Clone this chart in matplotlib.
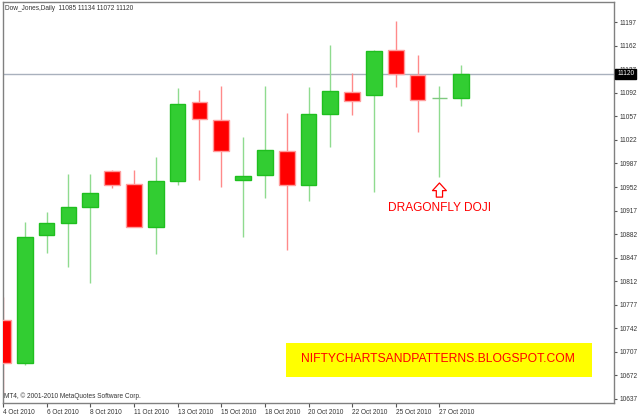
import matplotlib
matplotlib.use("Agg")
import matplotlib.pyplot as plt
from matplotlib.patches import Rectangle

# daily bars (MT4 export with a few sunday bars)
dates = ["4 Oct 2010", "5 Oct 2010", "6 Oct 2010", "7 Oct 2010", "8 Oct 2010",
         "10 Oct 2010", "11 Oct 2010", "12 Oct 2010", "13 Oct 2010", "14 Oct 2010",
         "15 Oct 2010", "17 Oct 2010", "18 Oct 2010", "19 Oct 2010", "20 Oct 2010",
         "21 Oct 2010", "22 Oct 2010", "24 Oct 2010", "25 Oct 2010", "26 Oct 2010",
         "27 Oct 2010", "28 Oct 2010"]
opens = [10754, 10690, 10880, 10898, 10923, 10976, 10957, 10892, 10961, 11078, 11052,
         10963, 10970, 11005, 10955, 11060, 11093, 11089, 11155, 11119, 11084, 11085]
highs = [10789, 10900, 10915, 10971, 10972, 10978, 10977, 10997, 11099, 11096, 11102,
         11027, 11102, 11062, 11100, 11163, 11122, 11156, 11199, 11148, 11102, 11134]
lows = [10646, 10688, 10854, 10833, 10810, 10950, 10892, 10852, 10955, 10963, 10952,
        10878, 10935, 10859, 10931, 11012, 11059, 10944, 11100, 11034, 10967, 11072]
closes = [10690, 10878, 10898, 10922, 10943, 10955, 10893, 10961, 11075, 11053, 11005,
          10969, 11007, 10955, 11061, 11094, 11080, 11154, 11120, 11081, 11084, 11120]

price_ticks = list(range(10637, 11198, 35))
doji_idx = 20

FONT = "Liberation Sans"
small = 4.7

fig = plt.figure(figsize=(6.4, 4.15), dpi=100)
ax = fig.add_axes([3 / 640, 1 - 403 / 415, 611 / 640, 401 / 415])

# candles
for i in range(len(opens)):
    o, h, l, c = opens[i], highs[i], lows[i], closes[i]
    if c >= o:
        fill, edge, wick = "#32cd32", "#1fbf1f", "#8fdb8f"
    else:
        fill, edge, wick = "#ff0000", "#ff9c9c", "#ff8a8a"
    if c == o:
        edge = "#7fc97f"
    ax.vlines(i, l, h, color=wick, lw=1, zorder=2)
    ax.add_patch(Rectangle((i - 0.36, min(o, c)), 0.72, abs(c - o),
                           facecolor=fill, edgecolor=edge, lw=1, zorder=3))

# last price line
ax.axhline(closes[-1], color="#a9b1bd", lw=1, zorder=1)

ax.set_xlim(0, 28)
ax.set_ylim(10631, 11227)

ax.yaxis.tick_right()
ax.set_yticks(price_ticks)
ax.set_yticklabels([str(p) for p in price_ticks], fontsize=small, family=FONT, color="#333333")
ax.tick_params(axis="y", direction="out", length=2, pad=2, color="#555555")

ax.set_xticks(range(0, len(dates), 2))
ax.set_xticklabels(dates[::2], fontsize=small, family=FONT, color="#333333", ha="left")
ax.tick_params(axis="x", direction="out", length=3, pad=1, color="#555555")

for s in ax.spines.values():
    s.set_color("#808080")
    s.set_linewidth(1)

# current price box on the scale (covers part of the 11127 label, as in MT4)
ax.annotate(str(closes[-1]), xy=(1, closes[-1]), xycoords=("axes fraction", "data"),
            xytext=(2.2, 0), textcoords="offset points", ha="left", va="center",
            fontsize=small, family=FONT, color="white", zorder=10, annotation_clip=False,
            bbox=dict(boxstyle="square,pad=0.25", fc="black", ec="black"))

# header and copyright
header = "Dow_Jones,Daily  %d %d %d %d" % (opens[-1], highs[-1], lows[-1], closes[-1])
ax.text(0.004, 0.985, header, transform=ax.transAxes, fontsize=small, family=FONT,
        color="#333333", ha="left", va="center")
ax.text(0.002, 0.0175, "MT4, \u00a9 2001-2010 MetaQuotes Software Corp.", transform=ax.transAxes,
        fontsize=small, family=FONT, color="#333333", ha="left", va="center")

# dragonfly doji note
ax.annotate("", xy=(doji_idx, lows[doji_idx] - 9), xytext=(doji_idx, lows[doji_idx] - 30),
            arrowprops=dict(arrowstyle="simple,head_length=0.55,head_width=1.0,tail_width=0.45",
                            fc="white", ec="red", lw=0.9, mutation_scale=10,
                            shrinkA=0, shrinkB=0), zorder=5)
ax.text(doji_idx, lows[doji_idx] - 46, "DRAGONFLY DOJI", color="red", fontsize=8.6,
        family=FONT, ha="center", va="center")

# yellow banner
fig.add_artist(Rectangle((286 / 640, 1 - 377 / 415), 306 / 640, 34 / 415,
                         transform=fig.transFigure, facecolor="#ffff00", edgecolor="none"))
fig.text(438 / 640, 1 - 358.5 / 415, "NIFTYCHARTSANDPATTERNS.BLOGSPOT.COM", color="red",
         fontsize=8.7, family=FONT, ha="center", va="center")

plt.savefig("out.png", dpi=100)
